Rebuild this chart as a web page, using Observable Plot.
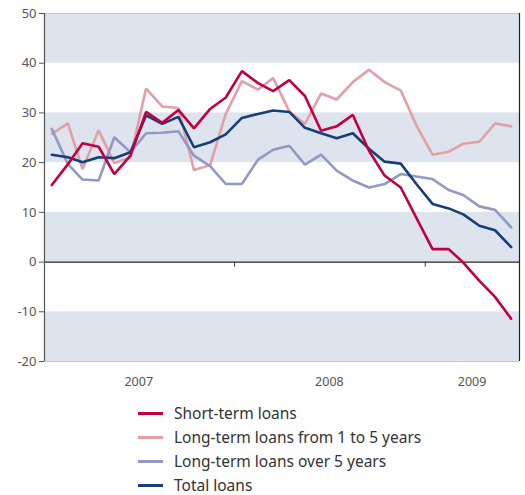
<!DOCTYPE html>
<html>
<head>
<meta charset="utf-8">
<script src="https://cdn.jsdelivr.net/npm/d3@7"></script>
<script src="https://cdn.jsdelivr.net/npm/@observablehq/plot@0.6"></script>
<style>
  body { margin: 0; background: #fff; font-family: "Noto Sans", sans-serif; }
  #legend { padding: 6px 0 0 138px; }
  .row { display: flex; align-items: center; height: 24px; font-size: 15.5px; color: #333; }
  .sw { width: 25px; height: 0; border-top: 3px solid; margin-right: 11px; }
</style>
</head>
<body>
<div id="chart"></div>
<div id="legend"></div>
<script>
// Monthly observations, Jan 2007 – Jun 2009 (annual growth, %)
const startMonth = "2007-01-01";
const shortTerm = [15.5, 19.7, 23.9, 23.2, 17.7, 21.4, 30.2, 28.0, 30.6, 26.9, 30.8, 33.1, 38.4, 36.0, 34.4, 36.6, 33.4, 26.4, 27.3, 29.6, 22.4, 17.4, 15.0, 8.9, 2.6, 2.6, -0.1, -3.8, -7.0, -11.4];
const longTerm1to5 = [25.8, 27.9, 18.7, 26.5, 19.9, 21.1, 34.9, 31.3, 31.0, 18.5, 19.5, 29.8, 36.4, 34.7, 37.0, 30.3, 27.8, 33.9, 32.7, 36.2, 38.7, 36.2, 34.5, 27.5, 21.6, 22.2, 23.8, 24.2, 27.9, 27.3];
const longTermOver5 = [26.8, 19.7, 16.6, 16.4, 25.1, 22.1, 25.9, 26.0, 26.3, 21.4, 19.3, 15.7, 15.7, 20.6, 22.6, 23.4, 19.6, 21.6, 18.4, 16.4, 15.0, 15.7, 17.7, 17.2, 16.7, 14.5, 13.5, 11.2, 10.5, 7.0];
const totalLoans = [21.6, 21.1, 20.1, 21.1, 20.9, 22.1, 29.5, 27.8, 29.2, 23.1, 24.1, 25.7, 29.0, 29.8, 30.5, 30.2, 27.0, 25.9, 24.9, 25.9, 22.8, 20.2, 19.8, 15.7, 11.7, 10.8, 9.6, 7.3, 6.4, 3.0];

const seriesNames = ["Short-term loans", "Long-term loans from 1 to 5 years", "Long-term loans over 5 years", "Total loans"];
const seriesColors = ["#c2003f", "#e2a0a5", "#9299c2", "#163e7a"];
const yTicks = [-20, -10, 0, 10, 20, 30, 40, 50];
const bandStarts = [40, 20, 0, -20];
const yearLabels = ["2007", "2008", "2009"];
const yearLabelDates = ["2007-07-01", "2008-07-01", "2009-04-01"];
const yearBoundaries = ["2008-01-01", "2009-01-01"];
const xDomain = ["2007-01-01", "2009-07-01"];

const months = shortTerm.map((_, i) => d3.utcDay.offset(d3.utcMonth.offset(new Date(startMonth), i), 14));
const allSeries = [shortTerm, longTerm1to5, longTermOver5, totalLoans];
const table = allSeries.map((vals, s) => vals.map((v, i) => ({date: months[i], value: v, series: seriesNames[s]})));

const x0 = new Date(xDomain[0]), x1 = new Date(xDomain[1]);
const bands = bandStarts.map(b => ({x1: x0, x2: x1, y1: b, y2: b + 10}));

const lineOrder = [1, 2, 3, 0];

const chart = Plot.plot({
  width: 525,
  height: 395,
  marginTop: 13,
  marginBottom: 34,
  marginLeft: 44,
  marginRight: 6,
  style: {fontFamily: "Noto Sans, sans-serif", background: "#fff"},
  x: {type: "utc", domain: [x0, x1]},
  y: {domain: [-20, 50]},
  marks: [
    Plot.rect(bands, {x1: "x1", x2: "x2", y1: "y1", y2: "y2", fill: "#dee4ee"}),
    Plot.ruleY([50, -20], {stroke: "#c4c6ca", strokeWidth: 1.2}),
    Plot.ruleY([0], {stroke: "#222", strokeWidth: 1.2}),
    Plot.ruleX(yearBoundaries.map(d => new Date(d)), {y1: 0, y2: -1, stroke: "#333", strokeWidth: 1}),
    Plot.ruleX([x0], {stroke: "#555", strokeWidth: 1.2}),
    Plot.ruleX([x1], {stroke: "#222", strokeWidth: 1.2}),
    ...lineOrder.map(s => Plot.line(table[s], {x: "date", y: "value", stroke: seriesColors[s], strokeWidth: 2.6, strokeLinejoin: "miter"})),
    Plot.axisY({ticks: yTicks, tickSize: 5, tickPadding: 3, fontSize: 13, color: "#555", stroke: "#555", tickFormat: d => String(d)}),
    Plot.axisX({ticks: []}),
    Plot.text(yearLabels, {x: (d, i) => new Date(yearLabelDates[i]), y: -20, dy: 20, text: d => d, fontSize: 12.5, fill: "#555"})
  ]
});
document.getElementById("chart").appendChild(chart);

const legend = document.getElementById("legend");
seriesNames.forEach((name, i) => {
  const row = document.createElement("div");
  row.className = "row";
  const sw = document.createElement("span");
  sw.className = "sw";
  sw.style.borderTopColor = seriesColors[i];
  const t = document.createElement("span");
  t.textContent = name;
  row.appendChild(sw);
  row.appendChild(t);
  legend.appendChild(row);
});
</script>
</body>
</html>
